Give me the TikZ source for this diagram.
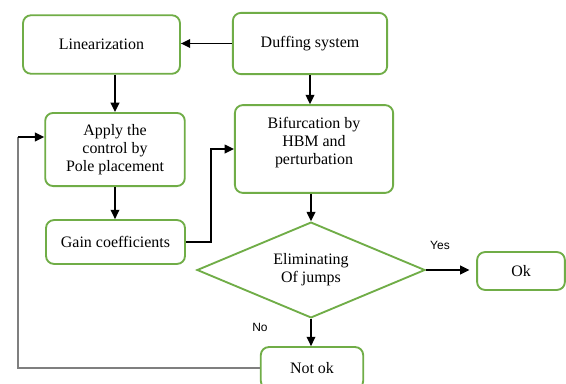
\documentclass[tikz,border=0pt]{standalone}
\usepackage{fontspec}
\setmainfont{Liberation Serif}
\newfontfamily\labelfont{Liberation Sans}
\usetikzlibrary{arrows.meta,shapes.geometric}
\definecolor{boxgreen}{HTML}{70AD47}
\definecolor{backline}{HTML}{7F7F7F}

\begin{document}
\begin{tikzpicture}[x=0.752pt, y=-0.752pt,
		stepbox/.style={draw=boxgreen, line width=1.4pt, rounded corners=6pt, fill=white,
				align=center, inner sep=2pt, font=\fontsize{12}{13.5}\selectfont},
		choice/.style={draw=boxgreen, line width=1.4pt, diamond, fill=white, align=center,
				inner sep=0pt, aspect=2.4, font=\fontsize{12}{13.5}\selectfont},
		flow/.style={line width=1.2pt, -{Triangle[length=7pt,width=6.5pt]}},
		answer/.style={font=\labelfont\fontsize{9}{10}\selectfont}]
		% page frame
		\useasboundingbox (0,0) rectangle (566,383);
		\clip (0,0) rectangle (566,383);

		% boxes of the upper part
		\node[stepbox, minimum width=118pt, minimum height=44pt] (lin) at (101.5,44.5) {Linearization};
		\node[stepbox, minimum width=116pt, minimum height=46pt] (duff) at (310,43.5) {Duffing system};
		\node[stepbox, minimum width=105pt, minimum height=55pt] (apply) at (115,149.5)
		{Apply the\\control by\\Pole placement};
		\node[stepbox, minimum width=119pt, minimum height=66pt] (bif) at (314,149) {};
		\node[align=center, font=\fontsize{12}{13.5}\selectfont] (biftext) at (314,143)
		{Bifurcation by\\HBM and\\perturbation};
		\node[stepbox, minimum width=104.5pt, minimum height=33pt] (gain) at (115.5,242) {Gain coefficients};

		% decision and its two outcomes
		\node[choice, minimum width=171.5pt, minimum height=72pt] (jump) at (311,270) {Eliminating\\Of jumps};
		\node[stepbox, minimum width=66pt, minimum height=28.5pt] (ok) at (521,271) {Ok};
		\node[stepbox, minimum width=77pt, minimum height=31.5pt] (notok) at (312,368) {Not ok};

		% arrows between the boxes
		\draw[flow] (duff.west) -- (duff.west -| lin.east);
		\draw[flow] (apply.north |- lin.south) -- (apply.north);
		\draw[flow] (apply.south) -- (apply.south |- gain.north);
		\draw[flow] (duff.south) -- (duff.south |- bif.north);
		\draw[flow] (jump.north |- bif.south) -- (jump.north);
		\draw[flow] (gain.east) -- ++(25,0) |- (bif.west);
		\draw[flow, shorten >=5pt] (jump.east) -- (ok.west |- jump.east);
		\draw[flow] (jump.south) -- (jump.south |- notok.north);

		% feedback from Not ok back to the control
		\coordinate (back) at (18,137);
		\draw[backline, line width=0.9pt] (notok.west) -| (back);
		\draw[flow] (back) -- (back -| apply.west);

		% answers of the decision
		\node[answer] (yes) at (440,245) {Yes};
		\node[answer] (no) at (260,327) {No};
	\end{tikzpicture}
\end{document}
